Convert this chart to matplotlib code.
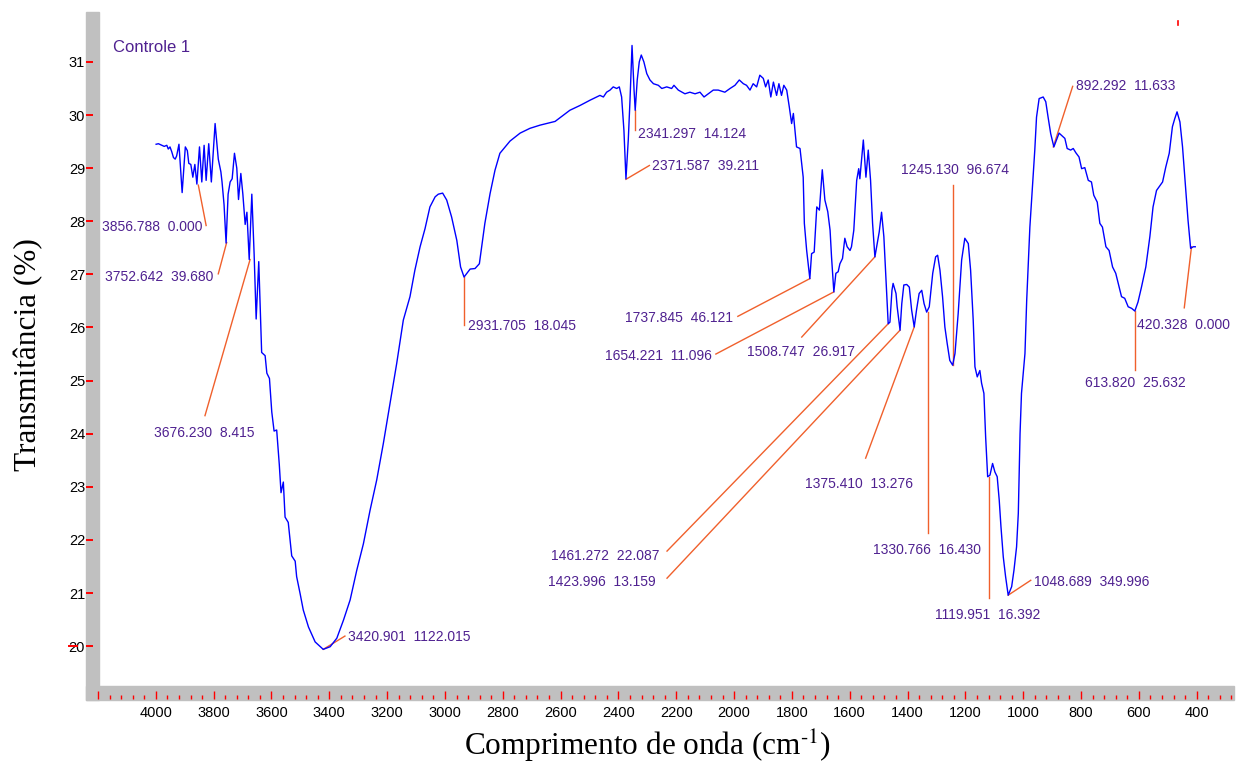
import numpy as np
import matplotlib
matplotlib.use("Agg")
import matplotlib.pyplot as plt
from matplotlib.patches import Rectangle
from matplotlib.lines import Line2D
from matplotlib.ticker import MultipleLocator

# spectrum (wavenumber cm-1, transmittance %)
wavenumber = [
    3999, 3991, 3979, 3971, 3962, 3957, 3951, 3945, 3939, 3933, 3928, 3920, 3909, 3898, 3891,
    3886, 3879, 3872, 3865, 3858, 3849, 3841, 3833, 3826, 3817, 3808, 3795, 3784, 3775, 3771,
    3764, 3757, 3750, 3743, 3736, 3728, 3720, 3714, 3706, 3699, 3691, 3685, 3677, 3668, 3660,
    3653, 3644, 3634, 3622, 3616, 3607, 3599, 3591, 3582, 3573, 3567, 3559, 3553, 3542, 3530,
    3518, 3513, 3501, 3490, 3472, 3449, 3421, 3397, 3374, 3351, 3328, 3305, 3282, 3259, 3236,
    3213, 3190, 3167, 3144, 3121, 3104, 3086, 3069, 3052, 3034, 3023, 3008, 2994, 2977, 2959,
    2946, 2934, 2913, 2896, 2881, 2873, 2862, 2844, 2827, 2810, 2775, 2740, 2706, 2671, 2619,
    2568, 2533, 2498, 2464, 2452, 2441, 2429, 2418, 2406, 2397, 2389, 2381, 2374, 2366, 2360,
    2353, 2346, 2342, 2335, 2328, 2321, 2312, 2302, 2291, 2279, 2262, 2250, 2233, 2216, 2208,
    2193, 2170, 2153, 2135, 2118, 2104, 2089, 2072, 2055, 2032, 2014, 1997, 1982, 1968, 1957,
    1945, 1934, 1922, 1911, 1899, 1891, 1882, 1873, 1864, 1853, 1845, 1836, 1828, 1818, 1809,
    1801, 1795, 1784, 1772, 1761, 1757, 1749, 1738, 1732, 1723, 1714, 1705, 1695, 1686, 1676,
    1668, 1663, 1655, 1648, 1640, 1634, 1625, 1617, 1609, 1599, 1594, 1586, 1576, 1569, 1565,
    1553, 1544, 1536, 1528, 1521, 1513, 1505, 1498, 1490, 1482, 1475, 1467, 1461, 1454, 1450,
    1440, 1436, 1426, 1420, 1413, 1403, 1394, 1386, 1377, 1369, 1360, 1351, 1343, 1334, 1325,
    1313, 1303, 1296, 1288, 1279, 1271, 1263, 1254, 1244, 1236, 1225, 1213, 1202, 1190, 1182,
    1173, 1167, 1159, 1150, 1144, 1136, 1130, 1123, 1115, 1106, 1098, 1090, 1083, 1077, 1069,
    1061, 1052, 1040, 1032, 1023, 1017, 1011, 1006, 994, 988, 977, 968, 960, 954, 945,
    931, 922, 914, 905, 894, 885, 876, 864, 856, 848, 836, 827, 818, 807, 798,
    787, 775, 764, 756, 744, 735, 726, 714, 703, 691, 680, 668, 660, 649, 637,
    625, 614, 603, 591, 576, 562, 551, 539, 530, 518, 507, 495, 484, 476, 468,
    458, 449, 441, 430, 421, 412, 405,
]
transmittance = [
    29.45, 29.46, 29.43, 29.41, 29.43, 29.36, 29.40, 29.31, 29.20, 29.17, 29.23, 29.45, 28.54, 29.40, 29.33,
    29.09, 29.07, 28.83, 29.07, 28.70, 29.40, 28.74, 29.43, 28.77, 29.46, 28.74, 29.84, 29.17, 28.93, 28.74,
    28.31, 27.59, 28.51, 28.74, 28.80, 29.28, 29.00, 28.41, 28.90, 28.51, 27.94, 28.17, 27.28, 28.51, 27.38,
    26.16, 27.24, 25.53, 25.47, 25.14, 25.04, 24.41, 24.05, 24.07, 23.42, 22.89, 23.09, 22.43, 22.33, 21.70,
    21.60, 21.31, 20.99, 20.68, 20.36, 20.08, 19.94, 19.99, 20.15, 20.49, 20.87, 21.43, 21.93, 22.56, 23.13,
    23.82, 24.57, 25.32, 26.14, 26.58, 27.08, 27.52, 27.86, 28.27, 28.46, 28.51, 28.53, 28.40, 28.08, 27.64,
    27.14, 26.95, 27.10, 27.11, 27.20, 27.52, 27.96, 28.52, 28.96, 29.28, 29.51, 29.66, 29.75, 29.81, 29.88,
    30.09, 30.18, 30.28, 30.37, 30.34, 30.43, 30.47, 30.53, 30.50, 30.53, 30.34, 29.71, 28.80, 29.53, 30.28,
    31.31, 30.47, 30.09, 30.66, 31.00, 31.13, 31.00, 30.78, 30.66, 30.59, 30.56, 30.50, 30.53, 30.50, 30.56,
    30.47, 30.40, 30.43, 30.40, 30.43, 30.34, 30.40, 30.47, 30.47, 30.43, 30.50, 30.56, 30.66, 30.59, 30.56,
    30.47, 30.59, 30.53, 30.75, 30.69, 30.53, 30.66, 30.34, 30.62, 30.37, 30.59, 30.37, 30.56, 30.47, 30.15,
    29.84, 30.03, 29.40, 29.37, 28.83, 27.96, 27.45, 26.92, 27.39, 27.42, 28.27, 28.21, 28.97, 28.40, 28.18,
    27.83, 27.33, 26.67, 27.02, 27.05, 27.20, 27.30, 27.68, 27.52, 27.45, 27.52, 27.83, 28.77, 28.99, 28.80,
    29.53, 28.83, 29.34, 28.77, 27.96, 27.33, 27.58, 27.80, 28.17, 27.71, 26.95, 26.07, 26.10, 26.70, 26.83,
    26.64, 26.39, 25.95, 26.45, 26.80, 26.81, 26.76, 26.33, 26.01, 26.33, 26.64, 26.70, 26.45, 26.29, 26.39,
    27.02, 27.33, 27.36, 27.08, 26.58, 26.01, 25.70, 25.38, 25.29, 25.51, 26.26, 27.27, 27.68, 27.58, 27.08,
    26.14, 25.26, 25.07, 25.19, 24.95, 24.76, 23.94, 23.19, 23.22, 23.44, 23.28, 23.19, 22.75, 22.25, 21.68,
    21.31, 20.96, 21.12, 21.43, 21.87, 22.50, 24.00, 24.76, 25.51, 26.51, 27.89, 28.65, 29.34, 29.96, 30.31,
    30.34, 30.25, 29.96, 29.65, 29.40, 29.53, 29.66, 29.60, 29.56, 29.37, 29.34, 29.37, 29.29, 29.21, 28.99,
    29.01, 28.77, 28.74, 28.49, 28.36, 27.96, 27.89, 27.52, 27.45, 27.14, 27.02, 26.76, 26.58, 26.55, 26.39,
    26.36, 26.31, 26.48, 26.76, 27.14, 27.71, 28.27, 28.58, 28.65, 28.74, 29.02, 29.28, 29.78, 29.93, 30.06,
    29.87, 29.40, 28.83, 28.02, 27.49, 27.52, 27.52,
]

# peak labels: text, peak (x, y), end of leader line (x, y), text anchor (x, y), alignment
peak_labels = [
    ("3856.788  0.000", (3853, 28.68), (3826, 27.92), (3840, 27.89), "right"),
    ("3752.642  39.680", (3755, 27.60), (3784, 27.01), (3801, 26.95), "right"),
    ("3676.230  8.415", (3674, 27.28), (3830, 24.34), (4006, 24.01), "left"),
    ("3420.901  1122.015", (3421, 19.94), (3346, 20.19), (3334, 20.18), "left"),
    ("2931.705  18.045", (2933, 26.95), (2933, 26.04), (2921, 26.02), "left"),
    ("2341.297  14.124", (2342, 30.09), (2342, 29.71), (2333, 29.64), "left"),
    ("2371.587  39.211", (2374, 28.79), (2293, 29.05), (2283, 29.04), "left"),
    ("1737.845  46.121", (1738, 26.92), (1987, 26.21), (2004, 26.17), "right"),
    ("1654.221  11.096", (1655, 26.67), (2063, 25.50), (2077, 25.46), "right"),
    ("1508.747  26.917", (1513, 27.33), (1766, 25.82), (1582, 25.53), "right"),
    ("1245.130  96.674", (1242, 25.29), (1242, 28.68), (1424, 28.96), "left"),
    ("1461.272  22.087", (1467, 26.07), (2232, 21.79), (2633, 21.69), "left"),
    ("1423.996  13.159", (1426, 25.95), (2232, 21.28), (2644, 21.20), "left"),
    ("1375.410  13.276", (1377, 26.01), (1545, 23.54), (1755, 23.05), "left"),
    ("1330.766  16.430", (1331, 26.29), (1331, 22.13), (1520, 21.81), "left"),
    ("1119.951  16.392", (1118, 23.19), (1118, 20.90), (1305, 20.58), "left"),
    ("1048.689  349.996", (1052, 20.96), (974, 21.24), (962, 21.21), "left"),
    ("892.292  11.633", (896, 29.40), (829, 30.54), (818, 30.54), "left"),
    ("613.820  25.632", (614, 26.31), (614, 25.20), (787, 24.95), "left"),
    ("420.328  0.000", (418, 27.52), (443, 26.37), (606, 26.04), "left"),
]

purple = "#4F2190"
orange = "#F0602C"
W, H = 1244, 769

fig = plt.figure(figsize=(W / 100, H / 100), dpi=100)
ax = fig.add_axes([98 / W, 1 - 686 / H, (1234 - 98) / W, (686 - 12) / H])
ax.patch.set_visible(False)
for s in ax.spines.values():
    s.set_visible(False)

# grey frame bars on the left and bottom (behind the axes so the red ticks show)
fig.patches.append(Rectangle((86 / W, 1 - 700 / H), 13.3 / W, 688 / H,
                             transform=fig.transFigure, color="#c0c0c0", zorder=-1))
fig.patches.append(Rectangle((86 / W, 1 - 700 / H), (1234 - 86) / W, 14 / H,
                             transform=fig.transFigure, color="#c0c0c0", zorder=-1))

ax.plot(wavenumber, transmittance, color="#0000ff", lw=1.0, zorder=3)

for text, (x0, y0), (x1, y1), (tx, ty), ha in peak_labels:
    ax.plot([x0, x1], [y0, y1], color=orange, lw=1.0, zorder=2)
    ax.text(tx, ty, text, ha=ha, va="center", color=purple, fontsize=10,
            family="Liberation Sans")

ax.text(4148, 31.28, "Controle 1", ha="left", va="center", color=purple,
        fontsize=12, family="Liberation Sans")

ax.set_xlim(4200, 271)
ax.set_ylim(19.25, 31.94)

# y ticks: short red marks on the grey bar
ax.spines["left"].set_position(("outward", 3.4))
ax.set_yticks(range(20, 32))
ax.tick_params(axis="y", direction="out", length=4.75, width=1.4, color="red",
               pad=1.2, labelsize=10.5)

# x ticks: red marks inside the bottom bar, every 40 with longer ones every 200
ax.spines["bottom"].set_position(("outward", 9.6))
major = list(range(4200, 399, -200))
ax.set_xticks(major)
ax.set_xticklabels([""] + [str(v) for v in major[1:]])
ax.xaxis.set_minor_locator(MultipleLocator(40))
ax.tick_params(axis="x", which="major", direction="in", length=5.5, width=1.0,
               color="red", pad=4.5, labelsize=10.5)
ax.tick_params(axis="x", which="minor", direction="in", length=3.1, width=1.0,
               color="red")
for lab in ax.get_xticklabels() + ax.get_yticklabels():
    lab.set_family("Liberation Sans")

# small stray marks in the original
fig.lines.append(Line2D([69.3 / W, 76.7 / W], [1 - 646 / H, 1 - 646 / H],
                        transform=fig.transFigure, color="red", lw=1.4))
fig.lines.append(Line2D([1177.7 / W, 1177.7 / W], [1 - 21 / H, 1 - 25 / H],
                        transform=fig.transFigure, color="red", lw=1.2))

plt.rcParams["mathtext.fontset"] = "stix"
fig.text(647.5 / W, 1 - 756 / H, r"Comprimento de onda (cm$^{\text{-1}}$)", ha="center",
         va="baseline", fontsize=22.5, family="Liberation Serif")
fig.text(29 / W, 1 - 355 / H, "Transmitância (%)", rotation=90, ha="center",
         va="center", fontsize=22.5, family="Liberation Serif")

fig.savefig("out.png", dpi=100)
